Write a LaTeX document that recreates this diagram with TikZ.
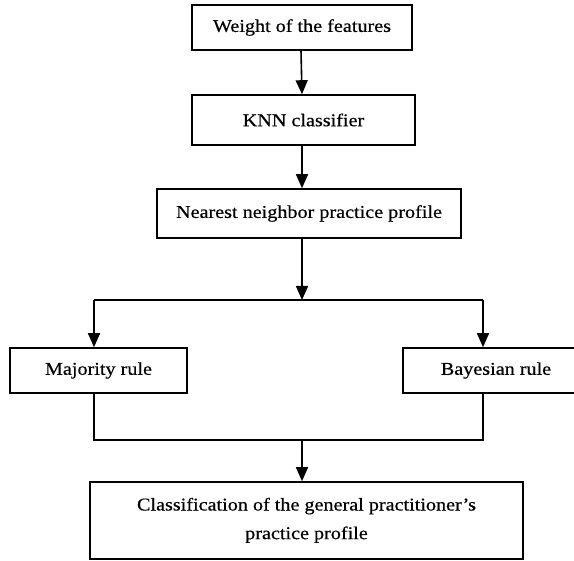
\documentclass[tikz,border=0pt]{standalone}
\usepackage{fontspec}
\setmainfont[FakeStretch=1.12, FakeBold=0.5]{Liberation Serif}
\usetikzlibrary{arrows.meta}

\tikzset{
  box/.style={draw=black, line width=1.6pt, rectangle, inner sep=0pt,
              font=\fontsize{18}{21.6}\selectfont, text=black},
  flow/.style={line width=1.6pt, -{Triangle[width=12pt,length=14pt]}},
  link/.style={line width=1.6pt}
}

\begin{document}
\begin{tikzpicture}[x=1pt, y=-1pt]
  \useasboundingbox (0,0) rectangle (574,561);

  % main chain of steps
  \node[box, minimum width=220, minimum height=45] (w)  at (302,27.5)   {Weight of the features\hspace{8pt}};
  \node[box, minimum width=223, minimum height=50] (k)  at (303.5,120)  {KNN classifier\hspace{24pt}};
  \node[box, minimum width=304, minimum height=49] (n)  at (309,213.5)  {Nearest neighbor practice profile\hspace{8pt}};

  % the two decision rules
  \node[box, minimum width=177, minimum height=45] (m)  at (98.5,370.5) {Majority rule};
  \node[box, minimum width=186, minimum height=45] (b)  at (496,370.5)  {Bayesian rule};

  % final result
  \node[box, minimum width=433, minimum height=77] (c)  at (306.5,520.5)
    {\raisebox{5pt}{\begin{tabular}{@{}c@{}}Classification of the general practitioner's\\[7pt]
     practice profile\end{tabular}}};

  % branch and join points
  \coordinate (split) at (302,300);
  \coordinate (sl) at (94,300);
  \coordinate (sr) at (483,300);
  \coordinate (join) at (302,440);
  \coordinate (jl) at (94,440);
  \coordinate (jr) at (483,440);

  \draw[flow] (w.south -| 301,0) -- (k.north -| 302,0);
  \draw[flow] (k.south -| split) -- (n.north -| split);
  \draw[flow] (n.south -| split) -- (split);
  \draw[link] (sl) -- (sr);
  \draw[flow] (sl) -- (m.north -| sl);
  \draw[flow] (sr) -- (b.north -| sr);
  \draw[link] (m.south -| jl) -- (jl) -- (jr) -- (b.south -| jr);
  \draw[flow] (join) -- (c.north -| join);
\end{tikzpicture}
\end{document}
